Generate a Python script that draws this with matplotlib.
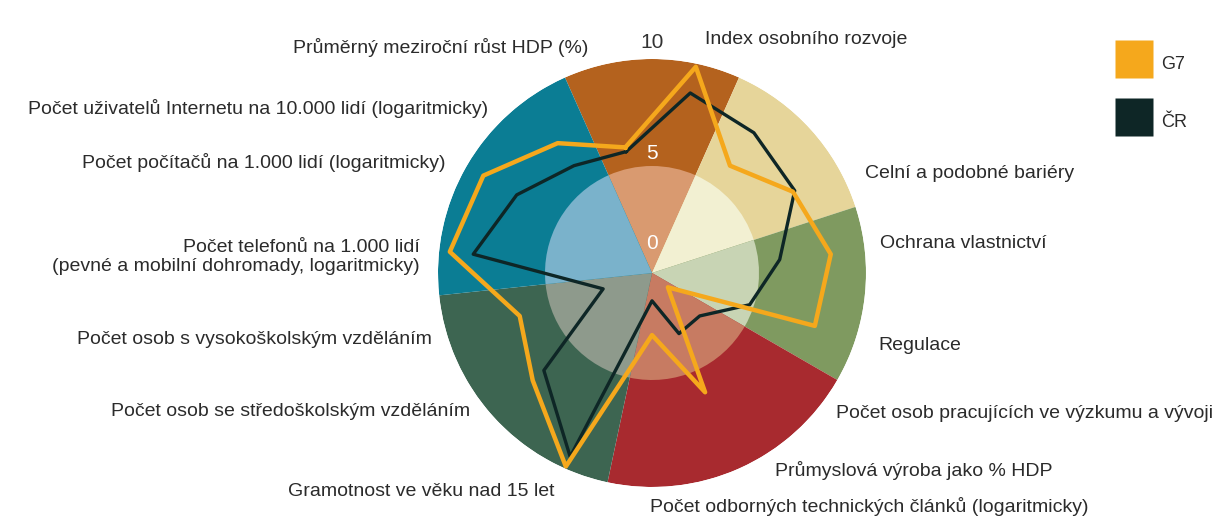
import numpy as np
import matplotlib
matplotlib.use("Agg")
import matplotlib.pyplot as plt
from matplotlib.lines import Line2D

# osy grafu (po směru hodinových ručiček, začátek u HDP)
labels = [
    "Průměrný meziroční růst HDP (%)",
    "Index osobního rozvoje",
    "",
    "Celní a podobné bariéry",
    "Ochrana vlastnictví",
    "Regulace",
    "Počet osob pracujících ve výzkumu a vývoji",
    "Průmyslová výroba jako % HDP",
    "Počet odborných technických článků (logaritmicky)",
    "Gramotnost ve věku nad 15 let",
    "Počet osob se středoškolským vzděláním",
    "Počet osob s vysokoškolským vzděláním",
    "Počet telefonů na 1.000 lidí\n(pevné a mobilní dohromady, logaritmicky)",
    "Počet počítačů na 1.000 lidí (logaritmicky)",
    "Počet uživatelů Internetu na 10.000 lidí (logaritmicky)",
]
g7 = [6.0, 9.85, 6.2, 7.6, 8.4, 8.0, 1.0, 6.1, 2.9, 9.9, 7.5, 6.5, 9.5, 9.1, 7.5]
cr = [5.8, 8.6, 8.1, 7.7, 6.0, 4.8, 3.0, 3.1, 1.3, 9.4, 6.8, 2.4, 8.4, 7.3, 6.2]
group_sizes = [2, 2, 2, 3, 3, 3]
ring_ticks = [0, 5, 10]

outer_colors = ["#B4621E", "#E6D59A", "#7F9A60", "#A82A2F", "#3D6551", "#0B7D94"]
inner_colors = ["#D99A70", "#F2F0D2", "#C8D4B4", "#C77B62", "#8E9A8C", "#7AB2CB"]
# pozice popisků v pixelech (x, y, zarovnání)
label_pos = [
    (588, 47, "right"), (705, 40, "left"), (0, 0, "left"), (865, 173, "left"),
    (880, 244, "left"), (878, 345, "left"), (836, 413, "left"), (775, 470, "left"),
    (650, 507, "left"), (555, 492, "right"), (470, 412, "right"), (432, 340, "right"),
    (420, 257, "right"), (445, 162, "right"), (488, 108, "right"),
]

W, H = 1218, 521
plt.rcParams["font.family"] = ["Liberation Sans", "DejaVu Sans"]
fig = plt.figure(figsize=(W / 100, H / 100), dpi=100)
fig.patch.set_facecolor("white")

cx, cy, rad = 652, 273, 214
ax = fig.add_axes([(cx - rad) / W, (H - cy - rad) / H, 2 * rad / W, 2 * rad / H],
                  projection="polar")
ax.set_theta_zero_location("N")
ax.set_theta_direction(-1)
ax.set_ylim(0, 10)
ax.set_axis_off()

n = len(g7)
step = 2 * np.pi / n
angles = -np.pi * 12 / 180 + step * np.arange(n)

# barevné výseče
start = 0
for size, oc, ic in zip(group_sizes, outer_colors, inner_colors):
    a0 = angles[start] - step / 2
    width = size * step
    ax.bar(a0, 10, width=width, bottom=0, align="edge", color=oc, edgecolor="none")
    ax.bar(a0, 5, width=width, bottom=0, align="edge", color=ic, edgecolor="none")
    start += size

th = np.append(angles, angles[0])
ax.plot(th, np.append(cr, cr[0]), color="#0E2626", lw=2.4, zorder=3)
ax.plot(th, np.append(g7, g7[0]), color="#F5A81C", lw=3.2, zorder=4)

# popisky stupnice
for v in ring_ticks:
    r = {0: 1.4, 5: 5.6, 10: 10.75}[v]
    ax.text(0, r, str(v), ha="center", va="center", fontsize=15,
            color="white" if v < 10 else "#333333", zorder=5)

for lab, (x, y, ha) in zip(labels, label_pos):
    if lab:
        fig.text(x / W, 1 - y / H, lab, ha=ha, va="center", fontsize=14,
                 color="#2b2b2b", multialignment="right" if ha == "right" else "left")

handles = [Line2D([], [], marker="s", linestyle="none", markersize=27,
                  markerfacecolor="#F5A81C", markeredgecolor="none", label="G7"),
           Line2D([], [], marker="s", linestyle="none", markersize=27,
                  markerfacecolor="#0E2626", markeredgecolor="none", label="ČR")]
fig.legend(handles=handles, loc="upper left", bbox_to_anchor=(1112 / W, 1 - 40 / H),
           frameon=False, borderpad=0, handlelength=1.4, handleheight=2.0,
           handletextpad=0.8, labelspacing=1.7, fontsize=13, labelcolor="#2b2b2b")

fig.savefig("out.png", dpi=100, facecolor="white")
